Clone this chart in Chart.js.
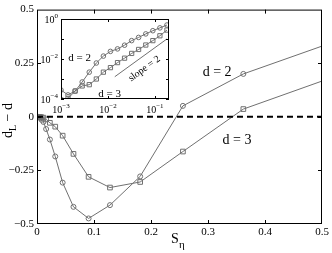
<!DOCTYPE html>
<html>
<head>
<meta charset="utf-8">
<script src="https://cdn.jsdelivr.net/npm/chart.js@4.4.1/dist/chart.umd.min.js"></script>
<style>
html,body{margin:0;padding:0;background:#fff;}
#wrap{position:relative;width:332px;height:253px;}
#main{position:absolute;left:0;top:0;}
#inset{position:absolute;left:40px;top:9px;}
</style>
</head>
<body>
<div id="wrap">
<canvas id="main" width="332" height="253"></canvas>
<canvas id="inset" width="140" height="110"></canvas>
</div>
<script>
// ---- data ----
const sEta = [0.001, 0.00141, 0.002, 0.00283, 0.004, 0.00566, 0.008, 0.0113, 0.016, 0.0226, 0.032, 0.045, 0.064, 0.0905, 0.128, 0.181, 0.256, 0.362, 0.512];
const dev2 = [-0.0003, -0.0002, -0.0003, -0.0008, -0.0025, -0.006, -0.014, -0.024, -0.057, -0.106, -0.185, -0.307, -0.42, -0.474, -0.412, -0.278, 0.051, 0.2, 0.341];
const dev3 = [-0.0001, -0.0001, -0.0003, -0.0005, -0.0005, -0.001, -0.0022, -0.004, -0.012, -0.028, -0.046, -0.088, -0.173, -0.28, -0.33, -0.304, -0.162, 0.036, 0.178];
const zeroLineX = [0, 0.5];
const zeroLineY = [0, 0];
const xTicks = [0, 0.1, 0.2, 0.3, 0.4, 0.5];
const yTicks = [-0.5, -0.25, 0, 0.25, 0.5];

const insetS = [0.001, 0.00141, 0.002, 0.00283, 0.004, 0.00566, 0.008, 0.0113, 0.016, 0.0226, 0.032, 0.045, 0.064, 0.0905, 0.128, 0.181];
const insetDev2 = [2.8e-4, 1.6e-4, 2.5e-4, 7.1e-4, 2.2e-3, 6.3e-3, 0.014, 0.024, 0.032, 0.049, 0.083, 0.12, 0.18, 0.26, 0.36, 0.5];
const insetDev3 = [9e-5, 1.07e-4, 2.5e-4, 4.5e-4, 5.2e-4, 1.0e-3, 2.2e-3, 3.7e-3, 6.6e-3, 0.011, 0.019, 0.03, 0.05, 0.083, 0.145, 0.28];
const slopeX = [0.014, 0.18];
const slopeY = [0.0013, 0.1];
const insetXTicks = [0.001, 0.01, 0.1];
const insetXExp = ['−3', '−2', '−1'];
const insetYTicks = [1, 0.1, 0.01, 0.001, 0.0001];
const insetYLabels = ['0', null, '−2', null, '−4'];

const SERIF = "'Liberation Serif','Times New Roman',serif";
const LINE = '#707070';
const pts = (xs, ys) => xs.map((x, i) => ({x: x, y: ys[i]}));

// ---- main chart ----
const mainPlugin = {
  id: 'mainDecor',
  afterDraw(chart) {
    const ctx = chart.ctx, a = chart.chartArea;
    const xs = chart.scales.x, ys = chart.scales.y;
    ctx.save();
    ctx.strokeStyle = '#000';
    ctx.lineWidth = 1;
    ctx.strokeRect(a.left + 0.5, a.top + 0.5, a.right - a.left - 1, a.bottom - a.top - 1);
    ctx.beginPath();
    xTicks.slice(1, -1).forEach(v => {
      const px = Math.round(xs.getPixelForValue(v)) + 0.5;
      ctx.moveTo(px, a.bottom); ctx.lineTo(px, a.bottom - 4);
      ctx.moveTo(px, a.top); ctx.lineTo(px, a.top + 4);
    });
    yTicks.slice(1, -1).forEach(v => {
      const py = Math.round(ys.getPixelForValue(v)) + 0.5;
      ctx.moveTo(a.left, py); ctx.lineTo(a.left + 4, py);
      ctx.moveTo(a.right, py); ctx.lineTo(a.right - 4, py);
    });
    ctx.stroke();
    // curve labels
    ctx.fillStyle = '#000';
    ctx.font = '14px ' + SERIF;
    ctx.textAlign = 'center';
    ctx.textBaseline = 'middle';
    ctx.fillText('d = 2', xs.getPixelForValue(0.316), ys.getPixelForValue(0.206));
    ctx.fillText('d = 3', xs.getPixelForValue(0.351), ys.getPixelForValue(-0.112));
    // x title S_eta
    ctx.textAlign = 'left';
    ctx.textBaseline = 'alphabetic';
    ctx.font = '14px ' + SERIF;
    ctx.fillText('S', 171, 243);
    ctx.font = '11px ' + SERIF;
    ctx.fillText('η', 179, 248);
    // y title d_L - d (rotated)
    ctx.translate(12, 118);
    ctx.rotate(-Math.PI / 2);
    ctx.font = '14px ' + SERIF;
    let x0 = -20;
    ctx.fillText('d', x0, 0);
    x0 += ctx.measureText('d').width;
    ctx.font = '10px ' + SERIF;
    ctx.fillText('L', x0, 4);
    x0 += ctx.measureText('L').width;
    ctx.font = '14px ' + SERIF;
    ctx.fillText(' − d', x0, 0);
    ctx.restore();
  }
};

new Chart(document.getElementById('main'), {
  type: 'line',
  data: {
    datasets: [
      {data: pts(zeroLineX, zeroLineY), borderColor: '#000', borderWidth: 2, borderDash: [6, 4], pointRadius: 0},
      {data: pts(sEta, dev2), borderColor: LINE, borderWidth: 1, pointStyle: 'circle', pointRadius: 2.5,
       pointBorderColor: LINE, pointBackgroundColor: 'rgba(0,0,0,0)', pointBorderWidth: 1},
      {data: pts(sEta, dev3), borderColor: LINE, borderWidth: 1, pointStyle: 'rect', pointRadius: 3.3,
       pointBorderColor: LINE, pointBackgroundColor: 'rgba(0,0,0,0)', pointBorderWidth: 1}
    ]
  },
  options: {
    responsive: false, animation: false, devicePixelRatio: 1,
    layout: {padding: {top: 9, right: 10, left: 0, bottom: 0}},
    plugins: {legend: {display: false}, tooltip: {enabled: false}},
    elements: {line: {tension: 0}},
    scales: {
      x: {
        type: 'linear', min: 0, max: 0.5,
        grid: {display: false, drawTicks: false}, border: {display: false},
        afterBuildTicks: s => { s.ticks = xTicks.map(v => ({value: v})); },
        afterFit: s => { s.height = 29; },
        ticks: {autoSkip: false, maxRotation: 0, padding: 2, color: '#000', font: {family: SERIF, size: 11},
                callback: v => String(Number(v.toFixed(2)))}
      },
      y: {
        type: 'linear', min: -0.5, max: 0.5,
        grid: {display: false, drawTicks: false}, border: {display: false},
        afterBuildTicks: s => { s.ticks = yTicks.map(v => ({value: v})); },
        afterFit: s => { s.width = 37; },
        ticks: {autoSkip: false, padding: 3, color: '#000', font: {family: SERIF, size: 11},
                callback: v => v === 0 ? '0' : (v < 0 ? '−' : '') + String(Math.abs(v))}
      }
    }
  },
  plugins: [mainPlugin]
});

// ---- inset chart ----
const insetPlugin = {
  id: 'insetDecor',
  beforeDatasetsDraw(chart) {
    const ctx = chart.ctx, a = chart.chartArea;
    ctx.save();
    ctx.fillStyle = '#fff';
    ctx.fillRect(a.left, a.top, a.right - a.left, a.bottom - a.top);
    ctx.restore();
  },
  afterDraw(chart) {
    const ctx = chart.ctx, a = chart.chartArea;
    const xs = chart.scales.x, ys = chart.scales.y;
    ctx.save();
    ctx.strokeStyle = '#000';
    ctx.lineWidth = 1;
    ctx.strokeRect(a.left + 0.5, a.top + 0.5, a.right - a.left - 1, a.bottom - a.top - 1);
    ctx.beginPath();
    insetXTicks.forEach(v => {
      const px = Math.round(xs.getPixelForValue(v)) + 0.5;
      ctx.moveTo(px, a.bottom); ctx.lineTo(px, a.bottom - 3);
      ctx.moveTo(px, a.top); ctx.lineTo(px, a.top + 3);
    });
    insetYTicks.forEach(v => {
      const py = Math.round(ys.getPixelForValue(v)) + 0.5;
      ctx.moveTo(a.left, py); ctx.lineTo(a.left + 3, py);
      ctx.moveTo(a.right, py); ctx.lineTo(a.right - 3, py);
    });
    ctx.stroke();
    ctx.fillStyle = '#000';
    ctx.textBaseline = 'alphabetic';
    ctx.textAlign = 'left';
    const base = '10px ' + SERIF, sup = '7px ' + SERIF;
    // x labels
    insetXTicks.forEach((v, i) => {
      const px = xs.getPixelForValue(v);
      ctx.font = base; const w1 = ctx.measureText('10').width;
      ctx.font = sup; const w2 = ctx.measureText(insetXExp[i]).width;
      const x0 = px - (w1 + w2) / 2;
      ctx.font = base; ctx.fillText('10', x0, a.bottom + 14);
      ctx.font = sup; ctx.fillText(insetXExp[i], x0 + w1, a.bottom + 9);
    });
    // y labels
    insetYTicks.forEach((v, i) => {
      const lab = insetYLabels[i];
      if (lab === null) return;
      const py = ys.getPixelForValue(v);
      ctx.font = base; const w1 = ctx.measureText('10').width;
      ctx.font = sup; const w2 = ctx.measureText(lab).width;
      const x0 = a.left - 3 - w1 - w2;
      ctx.font = base; ctx.fillText('10', x0, py + 4);
      ctx.font = sup; ctx.fillText(lab, x0 + w1, py - 1);
    });
    // labels
    ctx.font = '11px ' + SERIF;
    ctx.textAlign = 'center';
    ctx.textBaseline = 'middle';
    ctx.fillText('d = 2', xs.getPixelForValue(0.0025), ys.getPixelForValue(0.011));
    ctx.fillText('d = 3', xs.getPixelForValue(0.0109), ys.getPixelForValue(0.00018));
    ctx.translate(xs.getPixelForValue(0.06), ys.getPixelForValue(0.0033));
    ctx.rotate(-36 * Math.PI / 180);
    ctx.font = '10px ' + SERIF;
    ctx.fillText('slope = 2', 0, 0);
    ctx.restore();
  }
};

new Chart(document.getElementById('inset'), {
  type: 'line',
  data: {
    datasets: [
      {data: pts(insetS, insetDev2), borderColor: LINE, borderWidth: 1, pointStyle: 'circle', pointRadius: 2.3,
       pointBorderColor: LINE, pointBackgroundColor: 'rgba(0,0,0,0)', pointBorderWidth: 1},
      {data: pts(insetS, insetDev3), borderColor: LINE, borderWidth: 1, pointStyle: 'rect', pointRadius: 3,
       pointBorderColor: LINE, pointBackgroundColor: 'rgba(0,0,0,0)', pointBorderWidth: 1},
      {data: pts(slopeX, slopeY), borderColor: LINE, borderWidth: 1, pointRadius: 0}
    ]
  },
  options: {
    responsive: false, animation: false, devicePixelRatio: 1,
    layout: {padding: {top: 10, right: 11, left: 21, bottom: 20}},
    plugins: {legend: {display: false}, tooltip: {enabled: false}},
    elements: {line: {tension: 0}},
    scales: {
      x: {type: 'logarithmic', min: 0.001, max: 0.2, display: false},
      y: {type: 'logarithmic', min: 0.0001, max: 1, display: false}
    }
  },
  plugins: [insetPlugin]
});
</script>
</body>
</html>
